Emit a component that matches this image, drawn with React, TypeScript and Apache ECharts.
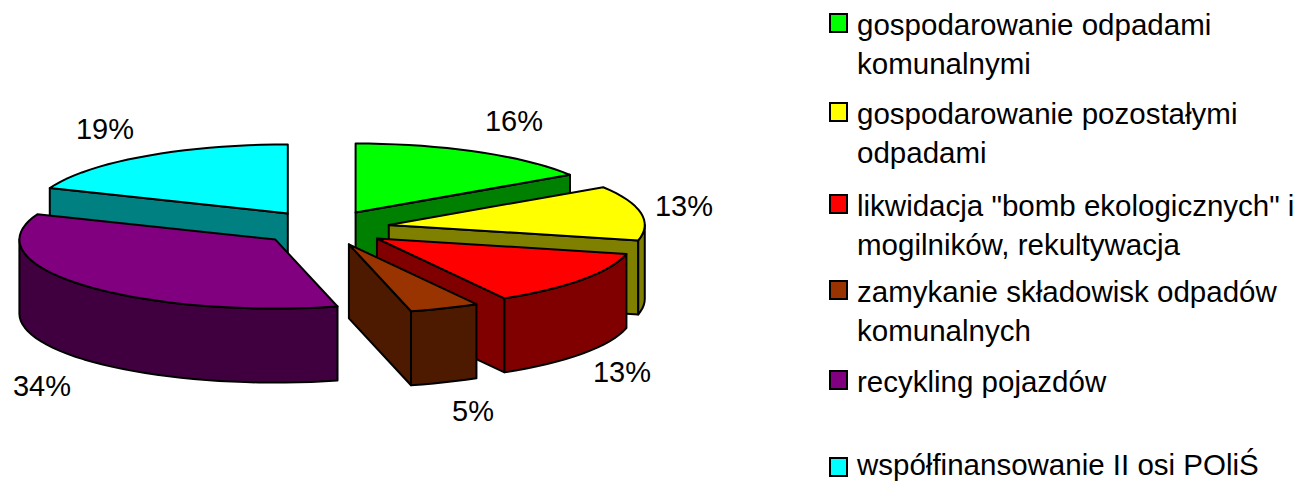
import React, { useEffect, useRef } from "react";
import * as echarts from "echarts";

// ---- data ----
const categories = [
  "gospodarowanie odpadami\nkomunalnymi",
  "gospodarowanie pozostałymi\nodpadami",
  'likwidacja "bomb ekologicznych" i\nmogilników, rekultywacja',
  "zamykanie składowisk odpadów\nkomunalnych",
  "recykling pojazdów",
  "współfinansowanie II osi POliŚ",
];
const values = [15.8, 12.8, 13.1, 4.4, 34.9, 19];
const percentLabels = ["16%", "13%", "13%", "5%", "34%", "19%"];

// ---- styling ----
const topColors = ["#00ff00", "#ffff00", "#ff0000", "#993300", "#800080", "#00ffff"];
const wallColors = ["#008000", "#808000", "#800000", "#4d1a00", "#400040", "#008080"];
const drawOrder = [5, 4, 0, 1, 2, 3];
const labelCentres = [
  [514, 121], [684, 206], [622, 372], [473, 411], [42, 386], [105, 129],
];
const legendY = [23, 112, 204, 290, 380, 467];
const legendTextY = [5, 94, 186, 272, 367.5, 450];

// ---- pie geometry ----
const CX = 324.5, CY = 228, RX = 256, RY = 69, DEPTH = 74, EXPLODE = 0.255;
const total = values.reduce((a, b) => a + b, 0);
const rad = (d: number) => (d * Math.PI) / 180;
const px = (a: number, r = 1) => r * RX * Math.sin(rad(a));
const py = (a: number, r = 1) => -r * RY * Math.cos(rad(a));

function arcPts(ox: number, oy: number, a0: number, a1: number, drop = 0) {
  const n = Math.max(2, Math.ceil(Math.abs(a1 - a0) / 3));
  const pts: number[][] = [];
  for (let i = 0; i <= n; i++) {
    const a = a0 + ((a1 - a0) * i) / n;
    pts.push([ox + px(a), oy + py(a) + drop]);
  }
  return pts;
}

const LINE = { stroke: "#000", lineWidth: 2, lineJoin: "round" as const };

function sliceShapes(i: number) {
  const start = (values.slice(0, i).reduce((a, b) => a + b, 0) / total) * 360;
  const end = start + (values[i] / total) * 360;
  const mid = (start + end) / 2;
  const ox = CX + px(mid, EXPLODE);
  const oy = CY + py(mid, EXPLODE);
  const poly = (points: number[][], fill: string) => ({
    type: "polygon",
    shape: { points },
    style: { fill, ...LINE },
  });
  const wall = wallColors[i];
  const out: any[] = [];
  const radial = (a: number) =>
    poly(
      [
        [ox, oy],
        [ox + px(a), oy + py(a)],
        [ox + px(a), oy + py(a) + DEPTH],
        [ox, oy + DEPTH],
      ],
      wall
    );
  if (Math.sin(rad(start)) < -1e-6) out.push(radial(start));
  if (Math.sin(rad(end)) > 1e-6) out.push(radial(end));
  const f0 = Math.max(start, 90);
  const f1 = Math.min(end, 270);
  if (f1 > f0) {
    out.push(
      poly(
        [...arcPts(ox, oy, f0, f1), ...arcPts(ox, oy, f1, f0, DEPTH)],
        wall
      )
    );
  }
  out.push(poly([[ox, oy], ...arcPts(ox, oy, start, end)], topColors[i]));
  return out;
}

export default function App() {
  const ref = useRef<HTMLDivElement>(null);
  useEffect(() => {
    document.body.style.margin = "0";
    const chart = echarts.init(ref.current!, undefined, { renderer: "svg" });
    const font = "Liberation Sans, Arial, sans-serif";
    chart.setOption({
      animation: false,
      backgroundColor: "#fff",
      series: [
        {
          type: "custom",
          coordinateSystem: "none",
          silent: true,
          data: drawOrder.map((i) => ({ name: categories[i], value: values[i] })),
          renderItem: (p: any) => {
            const i = drawOrder[p.dataIndex];
            return { type: "group", children: sliceShapes(i) };
          },
        },
      ],
      graphic: [
        ...percentLabels.map((t, i) => ({
          type: "text",
          x: labelCentres[i][0],
          y: labelCentres[i][1],
          style: {
            text: t,
            font: `29px ${font}`,
            fill: "#000",
            align: "center",
            verticalAlign: "middle",
          },
        })),
        ...categories.flatMap((c, i) => {
          const lh = c.includes("\n") ? 39 : 28;
          return [
            {
              type: "rect",
              shape: { x: 830, y: legendY[i] - 9, width: 17, height: 18 },
              style: { fill: topColors[i], stroke: "#000", lineWidth: 2 },
            },
            {
              type: "text",
              x: 857,
              y: legendTextY[i],
              style: {
                text: c,
                font: `29.5px ${font}`,
                lineHeight: lh,
                fill: "#000",
                align: "left",
                verticalAlign: "top",
              },
            },
          ];
        }),
      ],
    });
    return () => chart.dispose();
  }, []);
  return (
    <div
      ref={ref}
      style={{ position: "absolute", left: 0, top: 0, width: 1305, height: 483 }}
    />
  );
}
